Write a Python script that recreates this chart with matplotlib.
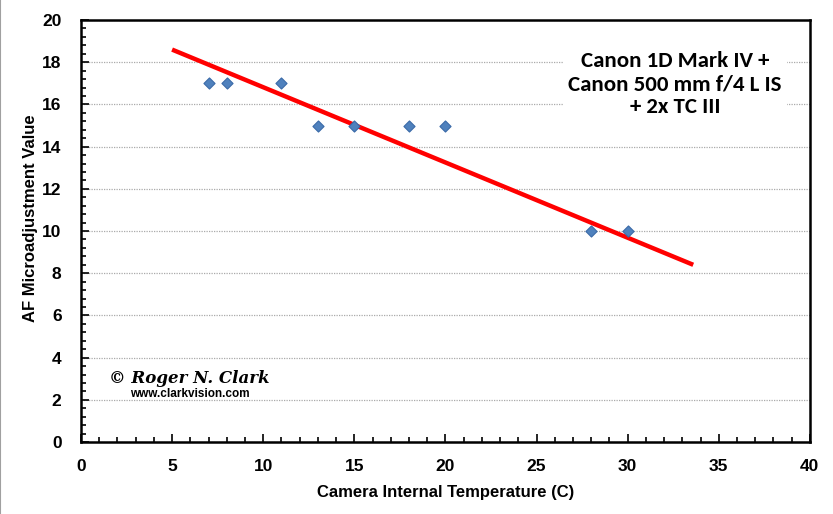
import matplotlib
matplotlib.use('Agg')
import matplotlib.pyplot as plt
from matplotlib.ticker import MultipleLocator

# ── data ──
temp_c   = [7, 8, 11, 13, 15, 18, 20, 28, 30]
af_value = [17, 17, 17, 15, 15, 15, 15, 10, 10]
trend_x  = [5.0, 33.6]
trend_y  = [18.6, 8.4]

BOLD = dict(family='Liberation Sans', fontweight='bold')

fig = plt.figure(figsize=(8.33, 5.14), dpi=100)
ax = fig.add_axes([0.0972, 0.140, 0.875, 0.821])

ax.yaxis.grid(True, color='#AAAAAA', linestyle=(0, (1, 1)), linewidth=0.9)
ax.set_axisbelow(True)

ax.plot(trend_x, trend_y, color='#FF0000', linewidth=3.2, solid_capstyle='butt', zorder=2)
ax.scatter(temp_c, af_value, marker='D', s=32, color='#4F81BD',
           edgecolors='#3A6AA8', linewidths=0.8, zorder=3)

ax.set_xlim(0, 40)
ax.set_ylim(0, 20)
ax.xaxis.set_major_locator(MultipleLocator(5))
ax.xaxis.set_minor_locator(MultipleLocator(1))
ax.yaxis.set_major_locator(MultipleLocator(2))
ax.yaxis.set_minor_locator(MultipleLocator(0.4))
ax.tick_params(which='both', direction='in', color='black', width=1.2)
ax.tick_params(which='major', length=6)
ax.tick_params(which='minor', length=3.5)
ax.tick_params(axis='x', pad=12)
ax.tick_params(axis='y', pad=14)
for lab in ax.get_xticklabels() + ax.get_yticklabels():
    lab.set_fontsize(12.5)
    lab.set_fontfamily('Liberation Sans')
    lab.set_fontweight('bold')
for sp in ax.spines.values():
    sp.set_linewidth(1.8)

ax.set_xlabel('Camera Internal Temperature (C)', fontsize=12, labelpad=8, **BOLD)
ax.set_ylabel('AF Microadjustment Value', fontsize=12, labelpad=8, **BOLD)
ax.yaxis.set_label_coords(-0.059, 0.53)

ax.text(0.815, 0.848, 'Canon 1D Mark IV +\nCanon 500 mm f/4 L IS\n+ 2x TC III',
        transform=ax.transAxes, ha='center', va='center', fontsize=16.5,
        linespacing=1.2, family=['Carlito', 'Open Sans', 'DejaVu Sans'], fontweight='bold',
        bbox=dict(facecolor='white', edgecolor='none', pad=4), zorder=4)

ax.text(0.038, 0.150, '\u00a9 Roger N. Clark', transform=ax.transAxes,
        fontsize=12, family='DejaVu Serif', fontstyle='italic', fontweight='bold',
        ha='left', va='center', zorder=4)
ax.text(0.067, 0.113, 'www.clarkvision.com', transform=ax.transAxes,
        fontsize=8.5, ha='left', va='center', zorder=4, **BOLD)

# thin grey frame on the left edge of the picture
fig.add_artist(plt.Line2D([0.0006, 0.0006], [0, 1], color='#A0A0A0', linewidth=1.5,
                          transform=fig.transFigure))

fig.savefig('out.png', dpi=100)
